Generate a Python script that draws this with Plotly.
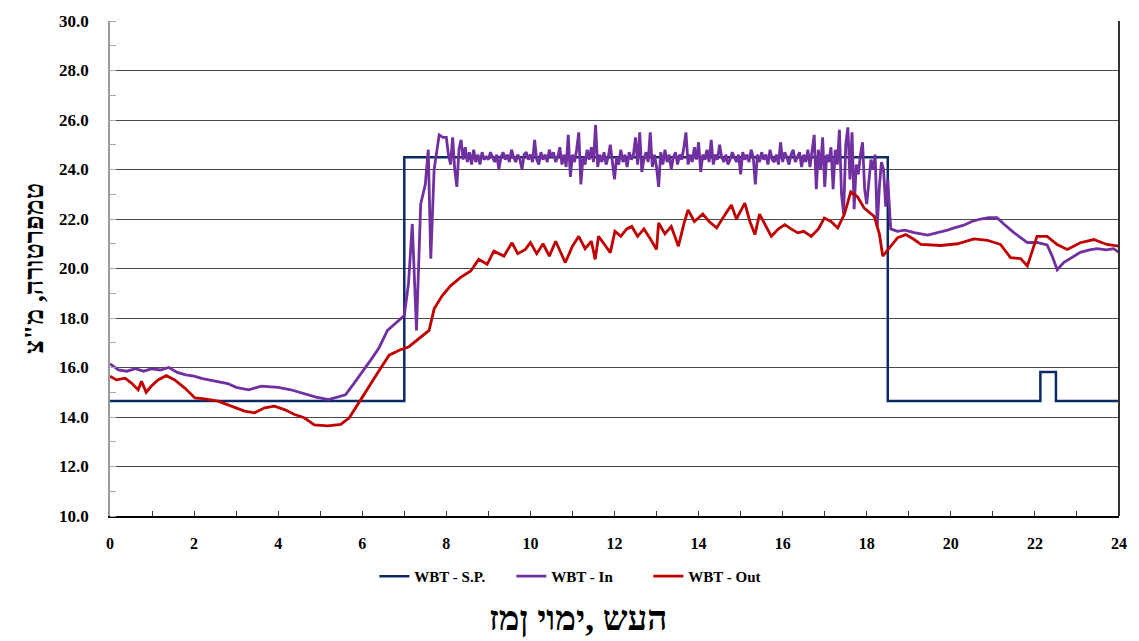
import plotly.graph_objects as go

# ---- data ----
t_sp = [0, 7.0, 7.0, 18.5, 18.5, 22.13, 22.13, 22.5, 22.5, 24]
v_sp = [14.65, 14.65, 24.5, 24.5, 14.65, 14.65, 15.82, 15.82, 14.65, 14.65]

# WBT - In : calm morning part, rise, noisy day part (sampled every 0.05 h), evening part
t_in_a = [0.0, 0.2, 0.4, 0.6, 0.8, 1.0, 1.2, 1.4, 1.6, 1.8, 2.0, 2.2, 2.5, 2.8, 3.0, 3.3, 3.6, 4.0, 4.3, 4.6,
          4.9, 5.2, 5.4, 5.6, 5.8, 6.0, 6.2, 6.4, 6.6, 6.8, 7.0, 7.1, 7.19, 7.29, 7.39, 7.5, 7.57, 7.63, 7.71, 7.83,
          7.92]
v_in_a = [16.15, 15.9, 15.85, 15.95, 15.85, 15.95, 15.9, 16.0, 15.8, 15.7, 15.65, 15.55, 15.45, 15.35, 15.2, 15.1, 15.25, 15.2, 15.1, 14.95,
          14.8, 14.7, 14.8, 14.9, 15.35, 15.8, 16.3, 16.8, 17.5, 17.8, 18.1, 19.4, 21.8, 17.5, 22.6, 23.4, 24.8, 20.4, 24.0, 25.4,
          25.3]
t_in_b = [round(8.0 + 0.05 * i, 2) for i in range(211)]
v_in_b = [25.3, 24.6, 24.2, 25.3, 24.0, 23.3, 24.8, 25.2, 24.4, 24.9, 24.3, 24.7, 24.2, 24.8, 24.3, 24.6, 24.2, 24.7, 24.4, 24.5,
          24.4, 24.7, 24.5, 24.3, 24.6, 24.0, 24.5, 24.7, 24.4, 24.6, 24.3, 24.8, 24.5, 24.3, 24.6, 24.4, 24.0, 24.6, 24.7, 24.4,
          24.6, 24.3, 25.2, 24.4, 24.2, 24.7, 24.4, 24.6, 24.3, 24.8, 24.5, 24.7, 24.3, 24.5, 24.9, 24.2, 24.6, 24.1, 25.4, 23.7,
          24.6, 24.3, 24.8, 25.5, 23.4, 24.5, 24.2, 24.8, 24.4, 24.9, 24.3, 25.8, 24.1, 24.6, 24.3, 24.7, 24.2, 24.5, 25.0, 24.4,
          23.6, 24.5, 24.2, 24.8, 24.3, 24.6, 24.1, 24.7, 24.4, 24.6, 25.3, 24.2, 25.5, 23.9, 24.4, 24.7, 24.3, 25.5, 24.1, 24.6,
          24.1, 23.3, 24.7, 24.2, 24.8, 24.3, 24.6, 24.0, 24.5, 24.7, 24.2, 24.6, 24.4, 24.9, 25.5, 24.2, 24.6, 24.3, 24.9, 24.4,
          25.1, 23.9, 24.6, 24.4, 24.8, 24.3, 25.2, 24.2, 24.6, 24.4, 25.0, 24.5, 24.3, 24.6, 24.2, 24.4, 24.7, 24.5, 24.3, 24.6,
          23.8, 24.7, 24.4, 24.6, 24.3, 24.8, 24.5, 23.4, 24.6, 24.3, 24.7, 24.4, 24.6, 24.2, 24.8, 24.4, 24.3, 24.6, 24.2, 25.1,
          24.3, 24.7, 24.5, 24.2, 24.6, 24.8, 24.3, 24.5, 24.7, 24.1, 24.6, 24.3, 24.8, 24.1, 24.7, 25.4, 23.2, 24.8, 24.0, 25.3,
          23.3, 24.6, 24.3, 24.9, 23.2, 24.8, 24.2, 25.6, 23.0, 22.2, 25.0, 25.7, 23.6, 25.5, 22.4, 24.2, 23.8, 24.6, 25.1, 23.2,
          22.6, 23.6, 24.4, 24.0, 24.6, 21.7, 23.3, 24.3, 24.0, 22.5, 23.6]
t_in_c = [18.57, 18.73, 18.9, 19.13, 19.45, 19.7, 19.92, 20.1, 20.31, 20.5, 20.71, 20.9, 21.1, 21.26, 21.5, 21.7, 21.82,
          22.05, 22.29, 22.41, 22.53, 22.69, 22.9, 23.08, 23.3, 23.48, 23.7, 23.87, 24.0]
v_in_c = [21.6, 21.5, 21.55, 21.45, 21.35, 21.45, 21.55, 21.65, 21.75, 21.9, 22.0, 22.05, 22.05, 21.8, 21.45, 21.2, 21.05,
          21.05, 20.95, 20.5, 19.95, 20.25, 20.45, 20.65, 20.75, 20.8, 20.75, 20.8, 20.65]
t_in = t_in_a + t_in_b + t_in_c
v_in = v_in_a + v_in_b + v_in_c

t_out = [0.0, 0.15, 0.36, 0.51, 0.67, 0.75, 0.86, 0.98, 1.14, 1.34, 1.54, 1.78, 2.02, 2.25, 2.57, 2.89, 3.2, 3.44, 3.68, 3.91,
         4.15, 4.39, 4.62, 4.86, 5.18, 5.49, 5.69, 5.89, 6.13, 6.36, 6.64, 6.88, 7.11, 7.35, 7.59, 7.71, 7.9, 8.1, 8.34, 8.58,
         8.77, 8.97, 9.13, 9.37, 9.56, 9.7, 9.88, 10.0, 10.15, 10.3, 10.45, 10.6, 10.7, 10.83, 11.0, 11.15, 11.3, 11.45, 11.54, 11.62,
         11.75, 11.9, 12.01, 12.15, 12.29, 12.41, 12.55, 12.7, 12.85, 13.0, 13.05, 13.2, 13.35, 13.52, 13.65, 13.75, 13.9, 14.1, 14.25, 14.43,
         14.6, 14.78, 14.9, 15.1, 15.22, 15.34, 15.45, 15.6, 15.73, 15.9, 16.05, 16.2, 16.36, 16.5, 16.68, 16.85, 16.99, 17.15, 17.31, 17.47,
         17.62, 17.78, 17.94, 18.18, 18.3, 18.38, 18.5, 18.73, 18.93, 19.1, 19.29, 19.76, 20.16, 20.55, 20.87, 21.18, 21.42, 21.66, 21.82, 21.94,
         22.05, 22.29, 22.53, 22.77, 23.08, 23.4, 23.71, 24.0]
v_out = [15.65, 15.5, 15.57, 15.37, 15.1, 15.44, 15.0, 15.24, 15.5, 15.67, 15.5, 15.17, 14.77, 14.73, 14.64, 14.44, 14.24, 14.17, 14.37, 14.44,
         14.3, 14.1, 13.97, 13.68, 13.64, 13.7, 13.97, 14.5, 15.17, 15.77, 16.5, 16.7, 16.84, 17.17, 17.5, 18.37, 18.9, 19.3, 19.64, 19.9,
         20.37, 20.17, 20.7, 20.5, 21.04, 20.6, 20.77, 21.05, 20.6, 21.0, 20.5, 21.1, 20.7, 20.24, 20.9, 21.3, 20.8, 21.1, 20.37, 21.3,
         21.0, 20.64, 21.5, 21.3, 21.6, 21.7, 21.3, 21.6, 21.2, 20.77, 21.84, 21.4, 21.7, 20.9, 21.8, 22.37, 21.9, 22.2, 21.9, 21.64,
         22.1, 22.57, 22.0, 22.64, 21.9, 21.37, 22.2, 21.7, 21.3, 21.6, 21.77, 21.6, 21.44, 21.5, 21.3, 21.6, 22.04, 21.9, 21.64, 22.2,
         23.1, 22.9, 22.44, 22.1, 21.4, 20.5, 20.77, 21.24, 21.37, 21.2, 20.97, 20.93, 21.0, 21.2, 21.14, 20.97, 20.44, 20.4, 20.1, 20.77,
         21.3, 21.3, 20.97, 20.77, 21.04, 21.17, 20.97, 20.9]

names = ["WBT - S.P.", "WBT - In", "WBT - Out"]
x_ticks = list(range(0, 25, 2))
y_ticks = [10, 12, 14, 16, 18, 20, 22, 24, 26, 28, 30]
x_title = "זמן יומי, שעה"
y_title = "טמפרטורה, מ\"צ"

# the reference shows the x title glyphs in left-to-right visual order
x_title_display = ('<span style="direction:ltr;unicode-bidi:bidi-override">'
                   + x_title + '</span>')

SERIF = "Liberation Serif"

fig = go.Figure()
fig.add_trace(go.Scatter(x=t_sp, y=v_sp, mode="lines", name=names[0],
                         line=dict(color="#0c2a66", width=2.5)))
fig.add_trace(go.Scatter(x=t_in, y=v_in, mode="lines", name=names[1],
                         line=dict(color="#7030a0", width=2.8)))
fig.add_trace(go.Scatter(x=t_out, y=v_out, mode="lines", name=names[2],
                         line=dict(color="#c00000", width=2.8)))

fig.update_layout(
    width=1139, height=641,
    margin=dict(l=110, r=16, t=16, b=125),
    paper_bgcolor="white", plot_bgcolor="white",
    font=dict(family=SERIF, color="black"),
    showlegend=True,
    legend=dict(orientation="h", x=0.262, xanchor="left", y=-0.122, yanchor="middle",
                font=dict(family=SERIF, size=15, color="black", weight="bold"),
                entrywidth=92, itemwidth=30, bgcolor="rgba(0,0,0,0)"),
    xaxis=dict(range=[0, 24], tickvals=x_ticks, ticktext=[str(v) for v in x_ticks],
               showgrid=False, zeroline=False,
               showline=True, linecolor="black", linewidth=1.5, mirror=False,
               ticks="inside", ticklen=5, tickcolor="#333", tickwidth=1,
               minor=dict(dtick=1, ticks="inside", ticklen=5, tickcolor="#333", tickwidth=1),
               tickfont=dict(family=SERIF, size=16, color="black", weight="bold"),
               ticklabelstandoff=12),
    yaxis=dict(range=[10, 30], tickvals=y_ticks, tickformat=".1f",
               showgrid=True, gridcolor="#4a4a4a", gridwidth=1.3,
               zeroline=False, showline=True, linecolor="#999999", linewidth=1.5,
               ticks="",
               minor=dict(dtick=1, tick0=11, ticks="inside", ticklen=6, tickcolor="#aaaaaa", tickwidth=1,
                          showgrid=False),
               tickfont=dict(family=SERIF, size=17, color="black", weight="bold"),
               ticklabelstandoff=16,
               title=dict(text=y_title, standoff=8,
                          font=dict(family=SERIF, size=27, color="black", weight="bold"))),
    annotations=[dict(text=x_title_display, xref="paper", yref="paper", x=0.464, y=-0.208,
                      xanchor="center", yanchor="middle", showarrow=False,
                      font=dict(family=SERIF, size=35, color="black", weight="bold"))],
    shapes=[dict(type="line", xref="paper", yref="paper", x0=1, x1=1, y0=0, y1=1,
                 line=dict(color="#333333", width=2))],
)

fig.write_html("out.html")
